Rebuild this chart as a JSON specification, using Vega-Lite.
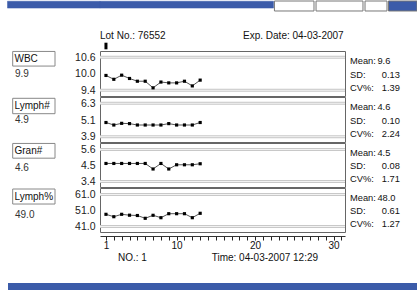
{
  "$schema": "https://vega.github.io/schema/vega-lite/v6.json",
  "padding": 0,
  "background": "white",
  "config": {
    "font": "Liberation Sans",
    "view": {"stroke": null},
    "text": {"fontSize": 10, "color": "#111"},
    "axis": {"labelOverlap": false}
  },
  "datasets": {
    "qc": [
      {"param": "WBC", "no": 1, "value": 9.94}, {"param": "WBC", "no": 2, "value": 9.80}, {"param": "WBC", "no": 3, "value": 9.95}, {"param": "WBC", "no": 4, "value": 9.83}, {"param": "WBC", "no": 5, "value": 9.73}, {"param": "WBC", "no": 6, "value": 9.73}, {"param": "WBC", "no": 7, "value": 9.49}, {"param": "WBC", "no": 8, "value": 9.70}, {"param": "WBC", "no": 9, "value": 9.67}, {"param": "WBC", "no": 10, "value": 9.67}, {"param": "WBC", "no": 11, "value": 9.73}, {"param": "WBC", "no": 12, "value": 9.56}, {"param": "WBC", "no": 13, "value": 9.77},
      {"param": "Lymph#", "no": 1, "value": 4.92}, {"param": "Lymph#", "no": 2, "value": 4.74}, {"param": "Lymph#", "no": 3, "value": 4.86}, {"param": "Lymph#", "no": 4, "value": 4.84}, {"param": "Lymph#", "no": 5, "value": 4.74}, {"param": "Lymph#", "no": 6, "value": 4.74}, {"param": "Lymph#", "no": 7, "value": 4.74}, {"param": "Lymph#", "no": 8, "value": 4.74}, {"param": "Lymph#", "no": 9, "value": 4.84}, {"param": "Lymph#", "no": 10, "value": 4.74}, {"param": "Lymph#", "no": 11, "value": 4.74}, {"param": "Lymph#", "no": 12, "value": 4.74}, {"param": "Lymph#", "no": 13, "value": 4.92},
      {"param": "Gran#", "no": 1, "value": 4.64}, {"param": "Gran#", "no": 2, "value": 4.64}, {"param": "Gran#", "no": 3, "value": 4.64}, {"param": "Gran#", "no": 4, "value": 4.64}, {"param": "Gran#", "no": 5, "value": 4.64}, {"param": "Gran#", "no": 6, "value": 4.64}, {"param": "Gran#", "no": 7, "value": 4.26}, {"param": "Gran#", "no": 8, "value": 4.64}, {"param": "Gran#", "no": 9, "value": 4.26}, {"param": "Gran#", "no": 10, "value": 4.55}, {"param": "Gran#", "no": 11, "value": 4.55}, {"param": "Gran#", "no": 12, "value": 4.55}, {"param": "Gran#", "no": 13, "value": 4.62},
      {"param": "Lymph%", "no": 1, "value": 48.62}, {"param": "Lymph%", "no": 2, "value": 47.12}, {"param": "Lymph%", "no": 3, "value": 48.62}, {"param": "Lymph%", "no": 4, "value": 48.06}, {"param": "Lymph%", "no": 5, "value": 47.87}, {"param": "Lymph%", "no": 6, "value": 46.12}, {"param": "Lymph%", "no": 7, "value": 48.0}, {"param": "Lymph%", "no": 8, "value": 46.5}, {"param": "Lymph%", "no": 9, "value": 49.0}, {"param": "Lymph%", "no": 10, "value": 49.0}, {"param": "Lymph%", "no": 11, "value": 49.0}, {"param": "Lymph%", "no": 12, "value": 46.5}, {"param": "Lymph%", "no": 13, "value": 49.25}
    ],
    "limits": [
      {"param": "WBC", "limit": "upper", "value": 10.6}, {"param": "WBC", "limit": "lower", "value": 9.4},
      {"param": "Lymph#", "limit": "upper", "value": 6.3}, {"param": "Lymph#", "limit": "lower", "value": 3.9},
      {"param": "Gran#", "limit": "upper", "value": 5.6}, {"param": "Gran#", "limit": "lower", "value": 3.4},
      {"param": "Lymph%", "limit": "upper", "value": 61.0}, {"param": "Lymph%", "limit": "lower", "value": 41.0}
    ],
    "panel": [
      {"param": "WBC", "label": "WBC", "current": "9.9"},
      {"param": "Lymph#", "label": "Lymph#", "current": "4.9"},
      {"param": "Gran#", "label": "Gran#", "current": "4.6"},
      {"param": "Lymph%", "label": "Lymph%", "current": "49.0"}
    ],
    "stats": [
      {"param": "WBC", "stat": "Mean:", "value": "9.6"}, {"param": "WBC", "stat": "SD:", "value": "0.13"}, {"param": "WBC", "stat": "CV%:", "value": "1.39"},
      {"param": "Lymph#", "stat": "Mean:", "value": "4.6"}, {"param": "Lymph#", "stat": "SD:", "value": "0.10"}, {"param": "Lymph#", "stat": "CV%:", "value": "2.24"},
      {"param": "Gran#", "stat": "Mean:", "value": "4.5"}, {"param": "Gran#", "stat": "SD:", "value": "0.08"}, {"param": "Gran#", "stat": "CV%:", "value": "1.71"},
      {"param": "Lymph%", "stat": "Mean:", "value": "48.0"}, {"param": "Lymph%", "stat": "SD:", "value": "0.61"}, {"param": "Lymph%", "stat": "CV%:", "value": "1.27"}
    ],
    "info": [
      {"lot": "Lot No.: 76552", "exp": "Exp. Date: 04-03-2007", "no": 1, "noText": "NO.: 1", "time": "Time: 04-03-2007 12:29"}
    ],
    "bar": [{"part": "window bar"}]
  },
  "columns": 3,
  "bounds": "flush",
  "spacing": {"row": 1, "column": 0},
  "concat": [
    {
      "width": 100, "height": 49,
      "data": {"name": "bar"},
      "mark": {"type": "rect", "fill": "#3b5ba9", "stroke": "#3b5ba9", "strokeWidth": 0.5, "opacity": 1, "fillOpacity": 1},
      "encoding": {
        "x": {"datum": 0.075, "type": "quantitative", "scale": {"domain": [0, 1], "nice": false, "zero": false}, "axis": null},
        "x2": {"datum": 1},
        "y": {"datum": 0.995, "type": "quantitative", "scale": {"domain": [0, 1], "nice": false, "zero": false}, "axis": null},
        "y2": {"datum": 0.855}}
    },
    {
      "width": 245, "height": 49,
      "data": {"name": "info"},
      "layer": [
        {"data": {"name": "bar"},
         "mark": {"type": "rect", "fill": "#3b5ba9", "stroke": "#3b5ba9", "strokeWidth": 0.5, "opacity": 1, "fillOpacity": 1},
         "encoding": {
           "x": {"datum": 0.24, "type": "quantitative", "scale": {"domain": [0.24, 31.45], "nice": false, "zero": false}, "axis": null},
           "x2": {"datum": 22.34},
           "y": {"datum": 0.995, "type": "quantitative", "scale": {"domain": [0, 1], "nice": false, "zero": false}, "axis": null},
           "y2": {"datum": 0.855}}},
        {"data": {"name": "bar"},
         "mark": {"type": "rect", "fill": "white", "stroke": "#777", "strokeWidth": 1},
         "encoding": {"x": {"datum": 22.46, "type": "quantitative", "axis": null}, "x2": {"datum": 27.5}, "y": {"datum": 1.0, "type": "quantitative", "axis": null}, "y2": {"datum": 0.796}}},
        {"data": {"name": "bar"},
         "mark": {"type": "rect", "fill": "white", "stroke": "#777", "strokeWidth": 1},
         "encoding": {"x": {"datum": 27.76, "type": "quantitative", "axis": null}, "x2": {"datum": 33.74}, "y": {"datum": 1.0, "type": "quantitative", "axis": null}, "y2": {"datum": 0.796}}},
        {"data": {"name": "bar"},
         "mark": {"type": "rect", "fill": "white", "stroke": "#777", "strokeWidth": 1},
         "encoding": {"x": {"datum": 34.0, "type": "quantitative", "axis": null}, "x2": {"datum": 36.8}, "y": {"datum": 1.0, "type": "quantitative", "axis": null}, "y2": {"datum": 0.796}}},
        {"data": {"name": "bar"},
         "mark": {"type": "rect", "fill": "#3b5ba9", "stroke": "#777", "strokeWidth": 1},
         "encoding": {"x": {"datum": 36.99, "type": "quantitative", "axis": null}, "x2": {"datum": 40.62}, "y": {"datum": 1.0, "type": "quantitative", "axis": null}, "y2": {"datum": 0.796}}},
        {"mark": {"type": "text", "align": "left", "baseline": "middle", "fontSize": 10},
         "encoding": {
           "x": {"datum": 0.24, "type": "quantitative", "axis": null},
           "y": {"datum": 0.286, "type": "quantitative", "axis": null},
           "text": {"field": "lot"}}},
        {"mark": {"type": "text", "align": "left", "baseline": "middle", "fontSize": 10},
         "encoding": {
           "x": {"datum": 18.46, "type": "quantitative", "axis": null},
           "y": {"datum": 0.286, "type": "quantitative", "axis": null},
           "text": {"field": "exp"}}},
        {"mark": {"type": "rule", "strokeWidth": 3, "color": "#000"},
         "encoding": {
           "x": {"field": "no", "type": "quantitative", "axis": null},
           "y": {"datum": 0.149, "type": "quantitative", "axis": null},
           "y2": {"datum": 0.014}}}
      ]
    },
    {"width": 72, "height": 49, "data": {"values": []}, "mark": "point"},

    {
      "width": 100, "height": 45,
      "data": {"name": "panel"}, "transform": [{"filter": "datum.param === 'WBC'"}],
      "layer": [
        {"mark": {"type": "rect", "fill": "white", "stroke": "#888", "strokeWidth": 1},
         "encoding": {
           "x": {"datum": 0.127, "type": "quantitative", "scale": {"domain": [0, 1], "nice": false, "zero": false}, "axis": null},
           "x2": {"datum": 0.55},
           "y": {"datum": 0.99, "type": "quantitative", "scale": {"domain": [0, 1], "nice": false, "zero": false}, "axis": null},
           "y2": {"datum": 0.665}}},
        {"mark": {"type": "text", "align": "left", "baseline": "middle"},
         "encoding": {"x": {"datum": 0.145, "type": "quantitative", "axis": null}, "y": {"datum": 0.828, "type": "quantitative", "axis": null}, "text": {"field": "label"}}},
        {"mark": {"type": "text", "align": "left", "baseline": "middle", "color": "#333"},
         "encoding": {"x": {"datum": 0.15, "type": "quantitative", "axis": null}, "y": {"datum": 0.482, "type": "quantitative", "axis": null}, "text": {"field": "current"}}}
      ]
    },
    {
      "width": 245, "height": 45,
      "view": {"stroke": "#666", "fill": "white"},
      "encoding": {"y": {"field": "value", "type": "quantitative",
        "scale": {"domain": [9.193, 10.829], "nice": false, "zero": false},
        "axis": {"values": [9.4, 10.0, 10.6], "format": ".1f", "domain": false, "grid": false, "ticks": false, "labelPadding": 5, "labelFontSize": 10.5, "labelColor": "#222", "labelOverlap": false, "title": null}}},
      "layer": [
        {"data": {"name": "limits"}, "transform": [{"filter": "datum.param === 'WBC'"}],
         "mark": {"type": "rule", "color": "#c8c8c8", "strokeWidth": 3}},
        {"data": {"name": "limits"}, "transform": [{"filter": "datum.param === 'WBC'"}],
         "mark": {"type": "rule", "color": "#f2f2f2", "strokeWidth": 1}},
        {"data": {"name": "qc"}, "transform": [{"filter": "datum.param === 'WBC'"}],
         "mark": {"type": "line", "color": "#555", "strokeWidth": 1},
         "encoding": {"x": {"field": "no", "type": "quantitative", "scale": {"domain": [0.24, 31.45], "nice": false, "zero": false}, "axis": null}}},
        {"data": {"name": "qc"}, "transform": [{"filter": "datum.param === 'WBC'"}],
         "mark": {"type": "point", "shape": "square", "filled": true, "size": 10, "color": "#000", "opacity": 1},
         "encoding": {"x": {"field": "no", "type": "quantitative", "axis": null}}}
      ]
    },
    {
      "width": 72, "height": 45,
      "data": {"name": "stats"}, "transform": [{"filter": "datum.param === 'WBC'"}],
      "encoding": {"y": {"field": "stat", "type": "nominal", "scale": {"type": "point", "domain": ["Mean:", "SD:", "CV%:"], "padding": 0.7}, "axis": null}},
      "layer": [
        {"mark": {"type": "text", "align": "left", "baseline": "middle", "dy": 1, "fontSize": 9.3},
         "encoding": {"x": {"datum": 0.069, "type": "quantitative", "scale": {"domain": [0, 1], "nice": false, "zero": false}, "axis": null}, "text": {"field": "stat"}}},
        {"transform": [{"filter": "datum.stat === 'Mean:'"}],
         "mark": {"type": "text", "align": "left", "baseline": "middle", "dy": 1, "fontSize": 9.3},
         "encoding": {"x": {"datum": 0.45, "type": "quantitative", "axis": null}, "text": {"field": "value"}}},
        {"transform": [{"filter": "datum.stat !== 'Mean:'"}],
         "mark": {"type": "text", "align": "left", "baseline": "middle", "dy": 1, "fontSize": 9.3},
         "encoding": {"x": {"datum": 0.51, "type": "quantitative", "axis": null}, "text": {"field": "value"}}}
      ]
    },

    {
      "width": 100, "height": 45,
      "data": {"name": "panel"}, "transform": [{"filter": "datum.param === 'Lymph#'"}],
      "layer": [
        {"mark": {"type": "rect", "fill": "white", "stroke": "#888", "strokeWidth": 1},
         "encoding": {
           "x": {"datum": 0.127, "type": "quantitative", "scale": {"domain": [0, 1], "nice": false, "zero": false}, "axis": null},
           "x2": {"datum": 0.55},
           "y": {"datum": 0.971, "type": "quantitative", "scale": {"domain": [0, 1], "nice": false, "zero": false}, "axis": null},
           "y2": {"datum": 0.629}}},
        {"mark": {"type": "text", "align": "left", "baseline": "middle"},
         "encoding": {"x": {"datum": 0.145, "type": "quantitative", "axis": null}, "y": {"datum": 0.8, "type": "quantitative", "axis": null}, "text": {"field": "label"}}},
        {"mark": {"type": "text", "align": "left", "baseline": "middle", "color": "#333"},
         "encoding": {"x": {"datum": 0.15, "type": "quantitative", "axis": null}, "y": {"datum": 0.482, "type": "quantitative", "axis": null}, "text": {"field": "current"}}}
      ]
    },
    {
      "width": 245, "height": 45,
      "view": {"stroke": "#666", "fill": "white"},
      "encoding": {"y": {"field": "value", "type": "quantitative",
        "scale": {"domain": [3.519, 6.753], "nice": false, "zero": false},
        "axis": {"values": [3.9, 5.1, 6.3], "format": ".1f", "domain": false, "grid": false, "ticks": false, "labelPadding": 5, "labelFontSize": 10.5, "labelColor": "#222", "labelOverlap": false, "title": null}}},
      "layer": [
        {"data": {"name": "limits"}, "transform": [{"filter": "datum.param === 'Lymph#'"}],
         "mark": {"type": "rule", "color": "#c8c8c8", "strokeWidth": 3}},
        {"data": {"name": "limits"}, "transform": [{"filter": "datum.param === 'Lymph#'"}],
         "mark": {"type": "rule", "color": "#f2f2f2", "strokeWidth": 1}},
        {"data": {"name": "qc"}, "transform": [{"filter": "datum.param === 'Lymph#'"}],
         "mark": {"type": "line", "color": "#555", "strokeWidth": 1},
         "encoding": {"x": {"field": "no", "type": "quantitative", "scale": {"domain": [0.24, 31.45], "nice": false, "zero": false}, "axis": null}}},
        {"data": {"name": "qc"}, "transform": [{"filter": "datum.param === 'Lymph#'"}],
         "mark": {"type": "point", "shape": "square", "filled": true, "size": 10, "color": "#000", "opacity": 1},
         "encoding": {"x": {"field": "no", "type": "quantitative", "axis": null}}}
      ]
    },
    {
      "width": 72, "height": 45,
      "data": {"name": "stats"}, "transform": [{"filter": "datum.param === 'Lymph#'"}],
      "encoding": {"y": {"field": "stat", "type": "nominal", "scale": {"type": "point", "domain": ["Mean:", "SD:", "CV%:"], "padding": 0.7}, "axis": null}},
      "layer": [
        {"mark": {"type": "text", "align": "left", "baseline": "middle", "dy": 1, "fontSize": 9.3},
         "encoding": {"x": {"datum": 0.069, "type": "quantitative", "scale": {"domain": [0, 1], "nice": false, "zero": false}, "axis": null}, "text": {"field": "stat"}}},
        {"transform": [{"filter": "datum.stat === 'Mean:'"}],
         "mark": {"type": "text", "align": "left", "baseline": "middle", "dy": 1, "fontSize": 9.3},
         "encoding": {"x": {"datum": 0.45, "type": "quantitative", "axis": null}, "text": {"field": "value"}}},
        {"transform": [{"filter": "datum.stat !== 'Mean:'"}],
         "mark": {"type": "text", "align": "left", "baseline": "middle", "dy": 1, "fontSize": 9.3},
         "encoding": {"x": {"datum": 0.51, "type": "quantitative", "axis": null}, "text": {"field": "value"}}}
      ]
    },

    {
      "width": 100, "height": 44,
      "data": {"name": "panel"}, "transform": [{"filter": "datum.param === 'Gran#'"}],
      "layer": [
        {"mark": {"type": "rect", "fill": "white", "stroke": "#888", "strokeWidth": 1},
         "encoding": {
           "x": {"datum": 0.127, "type": "quantitative", "scale": {"domain": [0, 1], "nice": false, "zero": false}, "axis": null},
           "x2": {"datum": 0.55},
           "y": {"datum": 0.99, "type": "quantitative", "scale": {"domain": [0, 1], "nice": false, "zero": false}, "axis": null},
           "y2": {"datum": 0.655}}},
        {"mark": {"type": "text", "align": "left", "baseline": "middle"},
         "encoding": {"x": {"datum": 0.145, "type": "quantitative", "axis": null}, "y": {"datum": 0.822, "type": "quantitative", "axis": null}, "text": {"field": "label"}}},
        {"mark": {"type": "text", "align": "left", "baseline": "middle", "color": "#333"},
         "encoding": {"x": {"datum": 0.15, "type": "quantitative", "axis": null}, "y": {"datum": 0.439, "type": "quantitative", "axis": null}, "text": {"field": "current"}}}
      ]
    },
    {
      "width": 245, "height": 44,
      "view": {"stroke": "#666", "fill": "white"},
      "encoding": {"y": {"field": "value", "type": "quantitative",
        "scale": {"domain": [3.022, 6.047], "nice": false, "zero": false},
        "axis": {"values": [3.4, 4.5, 5.6], "format": ".1f", "domain": false, "grid": false, "ticks": false, "labelPadding": 5, "labelFontSize": 10.5, "labelColor": "#222", "labelOverlap": false, "title": null}}},
      "layer": [
        {"data": {"name": "limits"}, "transform": [{"filter": "datum.param === 'Gran#'"}],
         "mark": {"type": "rule", "color": "#c8c8c8", "strokeWidth": 3}},
        {"data": {"name": "limits"}, "transform": [{"filter": "datum.param === 'Gran#'"}],
         "mark": {"type": "rule", "color": "#f2f2f2", "strokeWidth": 1}},
        {"data": {"name": "qc"}, "transform": [{"filter": "datum.param === 'Gran#'"}],
         "mark": {"type": "line", "color": "#555", "strokeWidth": 1},
         "encoding": {"x": {"field": "no", "type": "quantitative", "scale": {"domain": [0.24, 31.45], "nice": false, "zero": false}, "axis": null}}},
        {"data": {"name": "qc"}, "transform": [{"filter": "datum.param === 'Gran#'"}],
         "mark": {"type": "point", "shape": "square", "filled": true, "size": 10, "color": "#000", "opacity": 1},
         "encoding": {"x": {"field": "no", "type": "quantitative", "axis": null}}}
      ]
    },
    {
      "width": 72, "height": 44,
      "data": {"name": "stats"}, "transform": [{"filter": "datum.param === 'Gran#'"}],
      "encoding": {"y": {"field": "stat", "type": "nominal", "scale": {"type": "point", "domain": ["Mean:", "SD:", "CV%:"], "padding": 0.7}, "axis": null}},
      "layer": [
        {"mark": {"type": "text", "align": "left", "baseline": "middle", "dy": 1, "fontSize": 9.3},
         "encoding": {"x": {"datum": 0.069, "type": "quantitative", "scale": {"domain": [0, 1], "nice": false, "zero": false}, "axis": null}, "text": {"field": "stat"}}},
        {"transform": [{"filter": "datum.stat === 'Mean:'"}],
         "mark": {"type": "text", "align": "left", "baseline": "middle", "dy": 1, "fontSize": 9.3},
         "encoding": {"x": {"datum": 0.45, "type": "quantitative", "axis": null}, "text": {"field": "value"}}},
        {"transform": [{"filter": "datum.stat !== 'Mean:'"}],
         "mark": {"type": "text", "align": "left", "baseline": "middle", "dy": 1, "fontSize": 9.3},
         "encoding": {"x": {"datum": 0.51, "type": "quantitative", "axis": null}, "text": {"field": "value"}}}
      ]
    },

    {
      "width": 100, "height": 44,
      "data": {"name": "panel"}, "transform": [{"filter": "datum.param === 'Lymph%'"}],
      "layer": [
        {"mark": {"type": "rect", "fill": "white", "stroke": "#888", "strokeWidth": 1},
         "encoding": {
           "x": {"datum": 0.127, "type": "quantitative", "scale": {"domain": [0, 1], "nice": false, "zero": false}, "axis": null},
           "x2": {"datum": 0.55},
           "y": {"datum": 0.977, "type": "quantitative", "scale": {"domain": [0, 1], "nice": false, "zero": false}, "axis": null},
           "y2": {"datum": 0.636}}},
        {"mark": {"type": "text", "align": "left", "baseline": "middle"},
         "encoding": {"x": {"datum": 0.145, "type": "quantitative", "axis": null}, "y": {"datum": 0.806, "type": "quantitative", "axis": null}, "text": {"field": "label"}}},
        {"mark": {"type": "text", "align": "left", "baseline": "middle", "color": "#333"},
         "encoding": {"x": {"datum": 0.15, "type": "quantitative", "axis": null}, "y": {"datum": 0.38, "type": "quantitative", "axis": null}, "text": {"field": "current"}}}
      ]
    },
    {
      "width": 245, "height": 44,
      "view": {"stroke": "#666", "fill": "white"},
      "encoding": {"y": {"field": "value", "type": "quantitative",
        "scale": {"domain": [37.56, 65.06], "nice": false, "zero": false},
        "axis": {"values": [41.0, 51.0, 61.0], "format": ".1f", "domain": false, "grid": false, "ticks": false, "labelPadding": 5, "labelFontSize": 10.5, "labelColor": "#222", "labelOverlap": false, "title": null}}},
      "layer": [
        {"data": {"name": "limits"}, "transform": [{"filter": "datum.param === 'Lymph%'"}],
         "mark": {"type": "rule", "color": "#c8c8c8", "strokeWidth": 3}},
        {"data": {"name": "limits"}, "transform": [{"filter": "datum.param === 'Lymph%'"}],
         "mark": {"type": "rule", "color": "#f2f2f2", "strokeWidth": 1}},
        {"data": {"name": "qc"}, "transform": [{"filter": "datum.param === 'Lymph%'"}],
         "mark": {"type": "line", "color": "#555", "strokeWidth": 1},
         "encoding": {
           "x": {"field": "no", "type": "quantitative", "scale": {"domain": [0.24, 31.45], "nice": false, "zero": false},
             "axis": {"values": [1, 2, 3, 4, 5, 6, 7, 8, 9, 10, 11, 12, 13, 14, 15, 16, 17, 18, 19, 20, 21, 22, 23, 24, 25, 26, 27, 28, 29, 30, 31],
               "labelExpr": "datum.value == 1 || datum.value == 10 || datum.value == 20 || datum.value == 30 ? datum.label : ''",
               "offset": 4, "tickSize": 4, "tickColor": "#222", "domain": true, "domainColor": "#333", "labelFontSize": 10, "labelColor": "#111", "labelPadding": 0, "labelOverlap": false, "labelFlush": false, "labelBound": false, "grid": false, "title": null}}}},
        {"data": {"name": "qc"}, "transform": [{"filter": "datum.param === 'Lymph%'"}],
         "mark": {"type": "point", "shape": "square", "filled": true, "size": 10, "color": "#000", "opacity": 1},
         "encoding": {
           "x": {"field": "no", "type": "quantitative",
             "axis": {"values": [1, 2, 3, 4, 5, 6, 7, 8, 9, 10, 11, 12, 13, 14, 15, 16, 17, 18, 19, 20, 21, 22, 23, 24, 25, 26, 27, 28, 29, 30, 31],
               "labelExpr": "datum.value == 1 || datum.value == 10 || datum.value == 20 || datum.value == 30 ? datum.label : ''",
               "offset": 4, "tickSize": 4, "tickColor": "#222", "domain": true, "domainColor": "#333", "labelFontSize": 10, "labelColor": "#111", "labelPadding": 0, "labelOverlap": false, "labelFlush": false, "labelBound": false, "grid": false, "title": null}}}}
      ]
    },
    {
      "width": 72, "height": 44,
      "data": {"name": "stats"}, "transform": [{"filter": "datum.param === 'Lymph%'"}],
      "encoding": {"y": {"field": "stat", "type": "nominal", "scale": {"type": "point", "domain": ["Mean:", "SD:", "CV%:"], "padding": 0.7}, "axis": null}},
      "layer": [
        {"mark": {"type": "text", "align": "left", "baseline": "middle", "dy": 1, "fontSize": 9.3},
         "encoding": {"x": {"datum": 0.069, "type": "quantitative", "scale": {"domain": [0, 1], "nice": false, "zero": false}, "axis": null}, "text": {"field": "stat"}}},
        {"transform": [{"filter": "datum.stat === 'Mean:'"}],
         "mark": {"type": "text", "align": "left", "baseline": "middle", "dy": 1, "fontSize": 9.3},
         "encoding": {"x": {"datum": 0.45, "type": "quantitative", "axis": null}, "text": {"field": "value"}}},
        {"transform": [{"filter": "datum.stat !== 'Mean:'"}],
         "mark": {"type": "text", "align": "left", "baseline": "middle", "dy": 1, "fontSize": 9.3},
         "encoding": {"x": {"datum": 0.51, "type": "quantitative", "axis": null}, "text": {"field": "value"}}}
      ]
    },

    {"width": 100, "height": 49, "data": {"values": []}, "mark": "point"},
    {
      "width": 245, "height": 49,
      "data": {"name": "info"},
      "layer": [
        {"mark": {"type": "text", "align": "left", "baseline": "middle", "fontSize": 10},
         "encoding": {
           "x": {"datum": 2.53, "type": "quantitative", "scale": {"domain": [0.24, 31.45], "nice": false, "zero": false}, "axis": null},
           "text": {"field": "noText"}}},
        {"mark": {"type": "text", "align": "left", "baseline": "middle", "fontSize": 10},
         "encoding": {
           "x": {"datum": 14.47, "type": "quantitative", "axis": null},
           "text": {"field": "time"}}}
      ]
    },
    {"width": 72, "height": 49, "data": {"values": []}, "mark": "point"},

    {
      "width": 100, "height": 8,
      "data": {"name": "bar"},
      "mark": {"type": "rect", "fill": "#3b5ba9", "stroke": null, "opacity": 1, "fillOpacity": 1},
      "encoding": {
        "x": {"datum": 0.08, "type": "quantitative", "scale": {"domain": [0, 1], "nice": false, "zero": false}, "axis": null},
        "x2": {"datum": 1},
        "y": {"datum": 1, "type": "quantitative", "scale": {"domain": [0, 1], "nice": false, "zero": false}, "axis": null},
        "y2": {"datum": 0}}
    },
    {"width": 245, "height": 8, "view": {"fill": "#3b5ba9", "stroke": null}, "data": {"values": []}, "mark": "point"},
    {"width": 72, "height": 8, "view": {"fill": "#3b5ba9", "stroke": null}, "data": {"values": []}, "mark": "point"}
  ]
}
